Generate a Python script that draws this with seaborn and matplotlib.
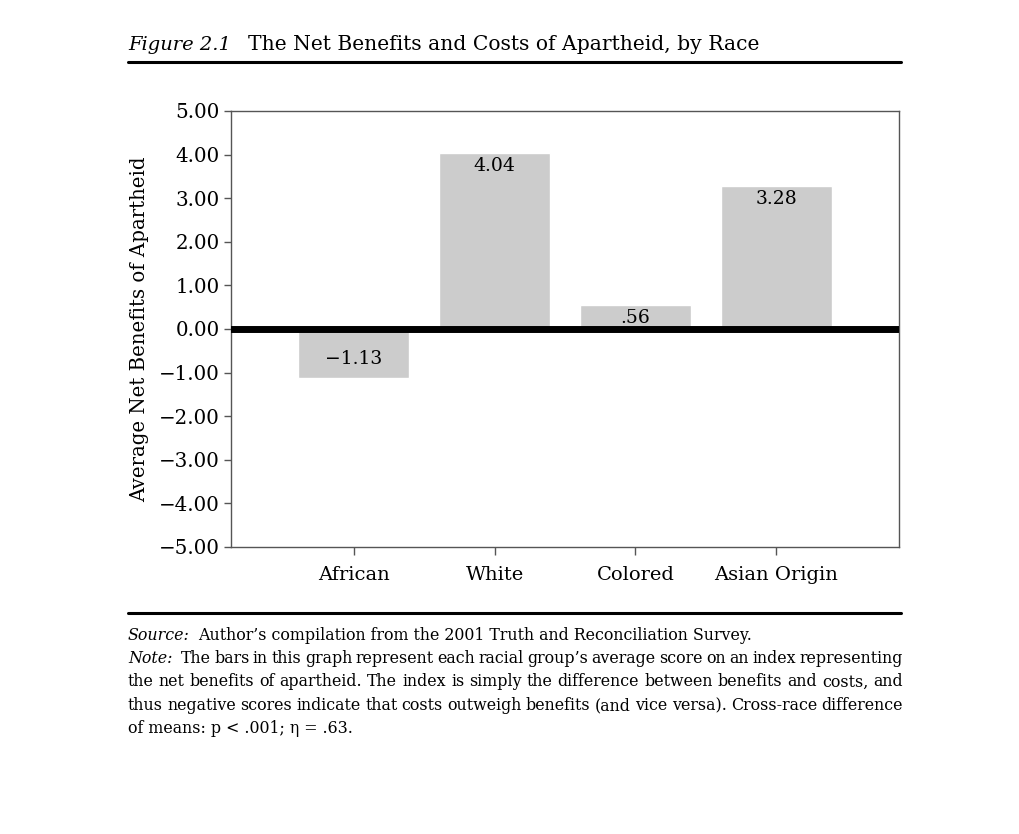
import numpy as np
import pandas as pd
import matplotlib
matplotlib.use("Agg")
import matplotlib.pyplot as plt
import seaborn as sns

# data
races = ["African", "White", "Colored", "Asian Origin"]
net_benefits = [-1.13, 4.04, 0.56, 3.28]
bar_labels = ["\u22121.13", "4.04", ".56", "3.28"]
y_ticks = [-5, -4, -3, -2, -1, 0, 1, 2, 3, 4, 5]

source_text = "Author\u2019s compilation from the 2001 Truth and Reconciliation Survey."
note_lines = [
    "The bars in this graph represent each racial group\u2019s average score on an index representing",
    "the net benefits of apartheid. The index is simply the difference between benefits and costs, and",
    "thus negative scores indicate that costs outweigh benefits (and vice versa). Cross-race difference",
    "of means: p < .001; \u03b7 = .63.",
]

sns.set_style("white")
plt.rcParams["font.family"] = ["DejaVu Serif"]
plt.rcParams["text.color"] = "black"
plt.rcParams["axes.labelcolor"] = "black"

W, H = 1020, 834
fig = plt.figure(figsize=(W / 100, H / 100), dpi=100)
ax = fig.add_axes([231 / W, 1 - 547 / H, (899 - 231) / W, (547 - 111) / H])

df = pd.DataFrame({"race": races, "value": net_benefits})
sns.barplot(data=df, x="race", y="value", color="#cccccc", width=0.79,
            saturation=1, ax=ax, zorder=2)

ax.axhline(0, color="black", linewidth=5, zorder=3)

ax.set_xlim(-0.87, 3.87)
ax.set_ylim(-5, 5)
ax.set_yticks(y_ticks)
ax.set_yticklabels([f"{v:.2f}".replace("-", "\u2212") for v in y_ticks])
ax.tick_params(axis="both", direction="out", length=5, width=1, color="#555555",
               labelcolor="black", left=True, bottom=True)
ax.tick_params(axis="y", labelsize=14.3, pad=3)
ax.tick_params(axis="x", labelsize=14, length=6, pad=8)
ax.set_xlabel("")
ax.set_ylabel("Average Net Benefits of Apartheid", fontsize=14.2, labelpad=7)
for s in ax.spines.values():
    s.set_visible(True)
    s.set_color("#555555")
    s.set_linewidth(1)

for i, (v, lab) in enumerate(zip(net_benefits, bar_labels)):
    if v >= 0:
        ax.annotate(lab, (i, v), xytext=(0, -4), textcoords="offset pixels",
                    ha="center", va="top", fontsize=13.5, zorder=4)
    else:
        ax.annotate(lab, (i, v), xytext=(0, 10), textcoords="offset pixels",
                    ha="center", va="bottom", fontsize=13.5, zorder=4)

# title and rules
def fx(px):
    return px / W

def fy(py):
    return 1 - py / H

fig.text(fx(128), fy(50), "Figure 2.1", fontsize=14, style="italic", va="baseline")
fig.text(fx(248), fy(50), "The Net Benefits and Costs of Apartheid, by Race",
         fontsize=14.6, va="baseline")
fig.add_artist(plt.Line2D([fx(128), fx(901)], [fy(62), fy(62)], color="black", linewidth=2.2))
fig.add_artist(plt.Line2D([fx(128), fx(901)], [fy(613), fy(613)], color="black", linewidth=2.2))

# footnotes
fs = 11.4
renderer = fig.canvas.get_renderer()


def label(px, py, s):
    t = fig.text(fx(px), fy(py), s, fontsize=fs, style="italic", va="baseline")
    return px + t.get_window_extent(renderer).width + 8


def justified(x0, x1, py, line):
    words = line.split(" ")
    texts = [fig.text(0, fy(py), w, fontsize=fs, va="baseline") for w in words]
    widths = [t.get_window_extent(renderer).width for t in texts]
    gap = (x1 - x0 - sum(widths)) / (len(words) - 1)
    x = x0
    for t, w in zip(texts, widths):
        t.set_x(fx(x))
        x += w + gap


x_src = label(128, 640, "Source:")
fig.text(fx(x_src), fy(640), source_text, fontsize=fs, va="baseline")
x_note = label(128, 663, "Note:")
justified(x_note, 903, 663, note_lines[0])
justified(128, 903, 686.5, note_lines[1])
justified(128, 903, 710, note_lines[2])
fig.text(fx(128), fy(733), note_lines[3], fontsize=fs, va="baseline")

fig.savefig("out.png", dpi=100)
